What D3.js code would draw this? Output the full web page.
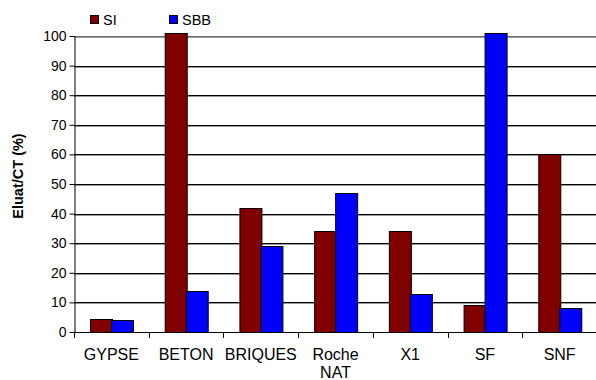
<!DOCTYPE html>
<html>
<head>
<meta charset="utf-8">
<script src="https://cdn.jsdelivr.net/npm/d3@7"></script>
<style>
  html, body { margin: 0; padding: 0; background: #fff; }
  svg { display: block; font-family: "Liberation Sans", Arial, sans-serif; }
</style>
</head>
<body>
<svg id="chart" width="596" height="380"></svg>
<script>
// Categories and the two measured series (Eluat/CT, %)
const categories = ["GYPSE", "BETON", "BRIQUES", "Roche NAT", "X1", "SF", "SNF"];
const seriesNames = ["SI", "SBB"];
const siValues = [4.5, 101, 42, 34, 34, 9, 60];
const sbbValues = [4, 14, 29, 47, 13, 101, 8];
const yTicks = [0, 10, 20, 30, 40, 50, 60, 70, 80, 90, 100];
const colors = ["#800000", "#0000ff"];

const svg = d3.select("#chart");
const margin = { left: 74, right: -1, top: 36, bottom: 48 };
const W = 596, H = 380;
const x0 = margin.left, x1 = W - margin.right;
const yTop = margin.top, yBot = H - margin.bottom;

const x = d3.scaleBand().domain(categories).range([x0, x1]).paddingInner(0).paddingOuter(0);
const xs = d3.scaleBand().domain(seriesNames).range([0, x.bandwidth()]).paddingInner(0).paddingOuter(0.71);
const y = d3.scaleLinear().domain([0, 100]).range([yBot, yTop]);

// Gridlines: black line with a grey line beneath
const grid = svg.append("g");
yTicks.filter(t => t > 0).forEach(t => {
  const yy = Math.round(y(t)) + 0.5;
  grid.append("line").attr("x1", x0).attr("x2", x1).attr("y1", yy + 1).attr("y2", yy + 1)
    .attr("stroke", "#9a9a9a").attr("stroke-width", 1);
  grid.append("line").attr("x1", x0).attr("x2", x1).attr("y1", yy).attr("y2", yy)
    .attr("stroke", t === 100 ? "#6e6e6e" : "#000").attr("stroke-width", 1);
});

// Bars
const data = categories.map((c, i) => ({ c, vals: [siValues[i], sbbValues[i]] }));
const groups = svg.append("g").selectAll("g").data(data).join("g")
  .attr("transform", d => `translate(${x(d.c)},0)`);
groups.selectAll("rect").data(d => d.vals.map((v, k) => ({ v, k })))
  .join("rect")
  .attr("x", d => Math.round(xs(seriesNames[d.k])) + 0.5)
  .attr("width", Math.round(xs.bandwidth()))
  .attr("y", d => Math.round(y(d.v)) + 0.5)
  .attr("height", d => Math.round(y(0)) - Math.round(y(d.v)))
  .attr("fill", d => colors[d.k])
  .attr("stroke", "#000").attr("stroke-width", 1);

// Y axis
const yAxis = svg.append("g").attr("transform", `translate(${x0 + 0.5},0)`)
  .call(d3.axisLeft(y).tickValues(yTicks).tickSize(5).tickPadding(3).tickSizeOuter(0));
yAxis.select(".domain").attr("stroke", "#000");
yAxis.selectAll(".tick line").attr("stroke", "#000");
yAxis.selectAll("text").attr("font-size", 14).attr("fill", "#000")
  .attr("font-family", "Liberation Sans, Arial, sans-serif");

// X axis: ticks at band boundaries
const xAxisG = svg.append("g");
xAxisG.append("line").attr("x1", x0).attr("x2", x1)
  .attr("y1", Math.round(y(0)) + 0.5).attr("y2", Math.round(y(0)) + 0.5).attr("stroke", "#000");
categories.forEach(c => {
  const xx = Math.round(x(c)) + 0.5;
  xAxisG.append("line").attr("x1", xx).attr("x2", xx)
    .attr("y1", Math.round(y(0))).attr("y2", Math.round(y(0)) + 6).attr("stroke", "#000");
});
categories.forEach(c => {
  const words = c.split(" ");
  const t = xAxisG.append("text").attr("text-anchor", "middle")
    .attr("font-size", 16).attr("fill", "#000")
    .attr("x", x(c) + x.bandwidth() / 2).attr("y", 360);
  words.forEach((w, i) => t.append("tspan")
    .attr("x", x(c) + x.bandwidth() / 2).attr("dy", i === 0 ? 0 : 18).text(w));
});

// Y axis title
svg.append("text")
  .attr("transform", "translate(23,176) rotate(-90)")
  .attr("text-anchor", "middle")
  .attr("font-size", 14.5).attr("font-weight", "bold").attr("fill", "#000")
  .text("Eluat/CT (%)");

// Legend
const legendX = [90, 169];
seriesNames.forEach((s, i) => {
  const g = svg.append("g").attr("transform", `translate(${legendX[i]},15)`);
  g.append("rect").attr("x", 0.5).attr("y", 0.5).attr("width", 8).attr("height", 8)
    .attr("fill", colors[i]).attr("stroke", "#000");
  g.append("text").attr("x", 13).attr("y", 9.5).attr("font-size", 14.5).attr("fill", "#000").text(s);
});
</script>
</body>
</html>
